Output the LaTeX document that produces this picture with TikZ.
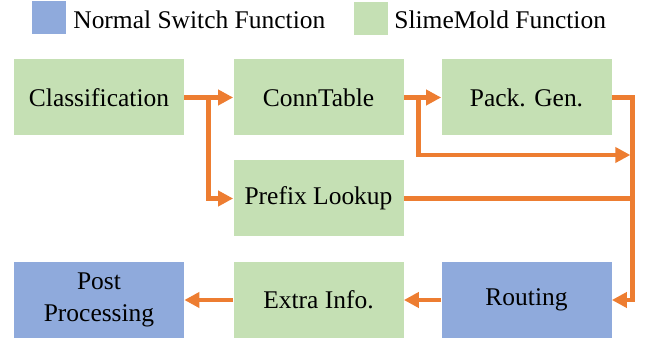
\documentclass[tikz,border=0pt]{standalone}
\usepackage{fontspec}
\setmainfont{Liberation Serif}
\newfontfamily\timesfont{Liberation Serif}[Ligatures=TeX]
\usetikzlibrary{arrows.meta,calc}
\definecolor{slimegreen}{RGB}{197,224,180}
\definecolor{switchblue}{RGB}{143,170,220}
\definecolor{flowcolor}{RGB}{237,125,49}

\begin{document}
\begin{tikzpicture}[
    >={Triangle[length=8.5pt, width=8.5pt]},
    every node/.style={font=\timesfont\fontsize{14.5}{17.4}\selectfont, text=black},
    slime/.style={fill=slimegreen, minimum width=3.4cm, minimum height=1.52cm, inner sep=0pt, align=center},
    normal/.style={fill=switchblue, minimum width=3.4cm, minimum height=1.52cm, inner sep=0pt, align=center},
    flow/.style={flowcolor, line width=2.8pt},
    legbox/.style={minimum width=0.68cm, minimum height=0.66cm, inner sep=0pt}]
    \useasboundingbox (0,0) rectangle (13.02,6.88);
    % --- Legend ---
    \node[legbox, fill=switchblue] (legnormal) at (0.98,6.53) {};
    \node[anchor=west, inner sep=0pt] (legnormaltxt) at (1.46,6.49) {Normal Switch Function};
    \node[legbox, fill=slimegreen] (legslime) at (7.41,6.51) {};
    \node[anchor=west, inner sep=0pt] (legslimetxt) at (7.88,6.49) {SlimeMold Function};
    % --- Function blocks ---
    \node[slime] (cls) at (1.98,4.93) {Classification};
    \node[slime] (conn) at (6.37,4.93) {ConnTable};
    \node[slime] (pack) at (10.53,4.93) {Pack. Gen.};
    \node[slime] (pfx) at (6.37,2.91) {Prefix Lookup};
    \node[normal] (post) at (1.98,0.88) {Post\\[1pt]Processing};
    \node[slime] (extra) at (6.37,0.88) {Extra Info.};
    \node[normal] (route) at (10.53,0.88) {Routing};
    % --- Bus on the right ---
    \coordinate (bus) at ($(pack.east)+(0.42,0)$);
    \coordinate (busmid) at ($(bus)+(-0.05,-1.15)$);
    \coordinate (split) at ($(cls.east)!0.5!(conn.west)$);
    \coordinate (split2) at ($(conn.east)+(0.29,0)$);
    % --- Connectors ---
    \draw[flow, ->] (cls.east) -- (conn.west);
    \draw[flow, ->] (split) |- (pfx.west);
    \draw[flow, ->] (conn.east) -- (pack.west);
    \draw[flow, ->] (split2) |- (busmid);
    \draw[flow] (pfx.east) -- (bus |- pfx.east);
    \draw[flow, ->, line join=miter] (pack.east) -- (bus) |- (route.east);
    \draw[flow, ->] (route.west) -- (extra.east);
    \draw[flow, ->] (extra.west) -- (post.east);
  \end{tikzpicture}
\end{document}
